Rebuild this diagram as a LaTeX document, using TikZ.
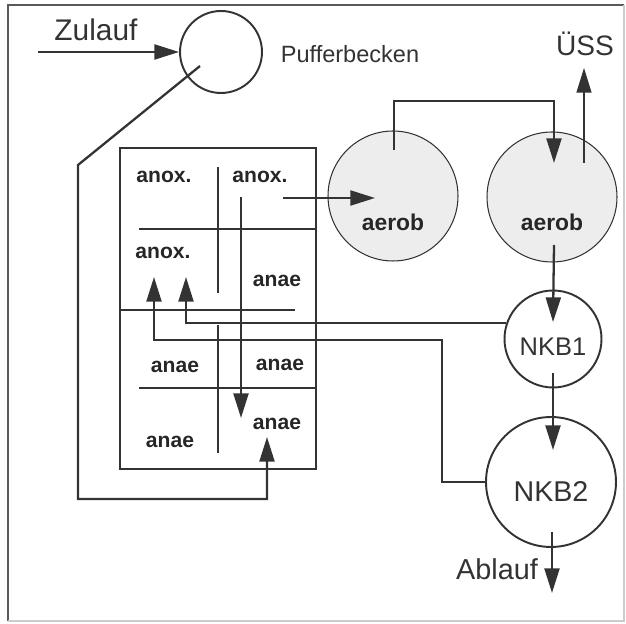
\documentclass[tikz,border=0pt]{standalone}
\usepackage{fontspec}
\setmainfont{Liberation Sans}
\usepackage{tikz}
\usetikzlibrary{arrows.meta,positioning}

\begin{document}
\begin{tikzpicture}[
  x=0.02cm,y=-0.02cm,
  pipe/.style={draw=black!80,line width=1.3pt},
  flow/.style={pipe,-{Triangle[length=14pt,width=8.5pt]}},
  tank/.style={draw=black!80,circle,line width=1.1pt,inner sep=0pt},
  aerobtank/.style={tank,line width=0.6pt,fill=black!7,minimum size=2.6cm},
  zone/.style={font=\fontsize{12}{14}\selectfont\bfseries,text=black!85,inner sep=0pt},
  tag/.style={text=black!80,inner sep=0pt}
]
\useasboundingbox (0,0) rectangle (626,624);
% frame
\draw[black!65,line width=0.8pt] (8,621) -- (8,5) -- (624,5);
\draw[black!20,line width=0.6pt] (624,5) -- (624,621) -- (8,621);

% tanks
\node[tank,minimum size=1.64cm] (puffer) at (221,52) {};
\node[aerobtank] (aerob1) at (393,196) {};
\node[aerobtank] (aerob2) at (552,197) {};
\node[tank,minimum size=1.94cm,label={[tag,font=\fontsize{14.5}{16}\selectfont,yshift=-0.16cm]center:NKB1}] (nkb1) at (553,339) {};
\node[tank,minimum size=2.6cm,label={[tag,font=\fontsize{16.3}{18}\selectfont,yshift=-0.2cm]center:NKB2}] (nkb2) at (551,482) {};
\node[draw=black!80,line width=1.1pt,minimum width=3.92cm,minimum height=6.42cm,inner sep=0pt] (kaskade) at (218,308.5) {};

% texts
\node[tag,font=\fontsize{17}{19}\selectfont] (zulauf) at (96,30) {Zulauf};
\node[tag,font=\fontsize{13.4}{15}\selectfont] (pufftxt) at (350,54) {Pufferbecken};
\node[tag,font=\fontsize{16}{18}\selectfont] (uess) at (585,44) {ÜSS};
\node[tag,font=\fontsize{16.4}{18}\selectfont] (ablauf) at (497,569) {Ablauf};
\node[zone,font=\fontsize{13}{15}\selectfont\bfseries] (aerobtxt1) at (393,222) {aerob};
\node[zone,font=\fontsize{13}{15}\selectfont\bfseries] (aerobtxt2) at (552,222) {aerob};

% zones in the cascade
\node[zone] (z1) at (164,177) {anox.};
\node[zone] (z2) at (260,177) {anox.};
\node[zone] (z3) at (163,253) {anox.};
\node[zone] (z4) at (277,281) {anae};
\node[zone] (z5) at (175,367) {anae};
\node[zone] (z6) at (280,365) {anae};
\node[zone] (z7) at (170,442) {anae};
\node[zone] (z8) at (277,424) {anae};

% walls
\draw[pipe] (139,229) -- (kaskade.east |- 0,229);
\draw[pipe] (218,167) -- (218,293);
\draw[pipe] (kaskade.west |- 0,310) -- (295,310);
\draw[pipe] (218,325) -- (218,453);
\draw[pipe] (139,388) -- (kaskade.east |- 0,388);

% points where the pipes end
\coordinate (zu) at (38,52);
\coordinate (pout) at (200,66);
\coordinate (in8) at (267,437);
\coordinate (down1) at (241,197);
\coordinate (down2) at (241,418);
\coordinate (out2) at (283,198);
\coordinate (a1in) at (375,198);
\coordinate (a1out) at (394,150);
\coordinate (a2in) at (554,163);
\coordinate (a2up) at (584,163);
\coordinate (uess1) at (584,68);
\coordinate (a2out) at (554,245);
\coordinate (n1in) at (553,322);
\coordinate (n1out) at (553,373);
\coordinate (n1rs) at (506,323);
\coordinate (n2in) at (553,450);
\coordinate (n2out) at (552,532);
\coordinate (ab) at (552,593);
\coordinate (rs1) at (186,277);
\coordinate (rs2) at (154,277);

% flows
\draw[flow] (zu) -- (puffer.west);
\draw[flow] (pout) -- (78,165) -- (78,499) -| (in8);
\draw[flow] (down1) -- (down2);
\draw[flow] (out2) -- (a1in);
\draw[flow] (a1out) -- ++(0,-49) -| (a2in);
\draw[flow,line width=0.8pt] (a2up) -- (uess1);
\draw[flow] (a2out) -- (n1in);
\draw[flow] (n1out) -- (n2in);
\draw[flow] (n2out) -- (ab);
\draw[flow] (n1rs) -| (rs1);
\draw[flow] (nkb2.west) -- (442,482) |- (154,340) -- (rs2);
\end{tikzpicture}
\end{document}
